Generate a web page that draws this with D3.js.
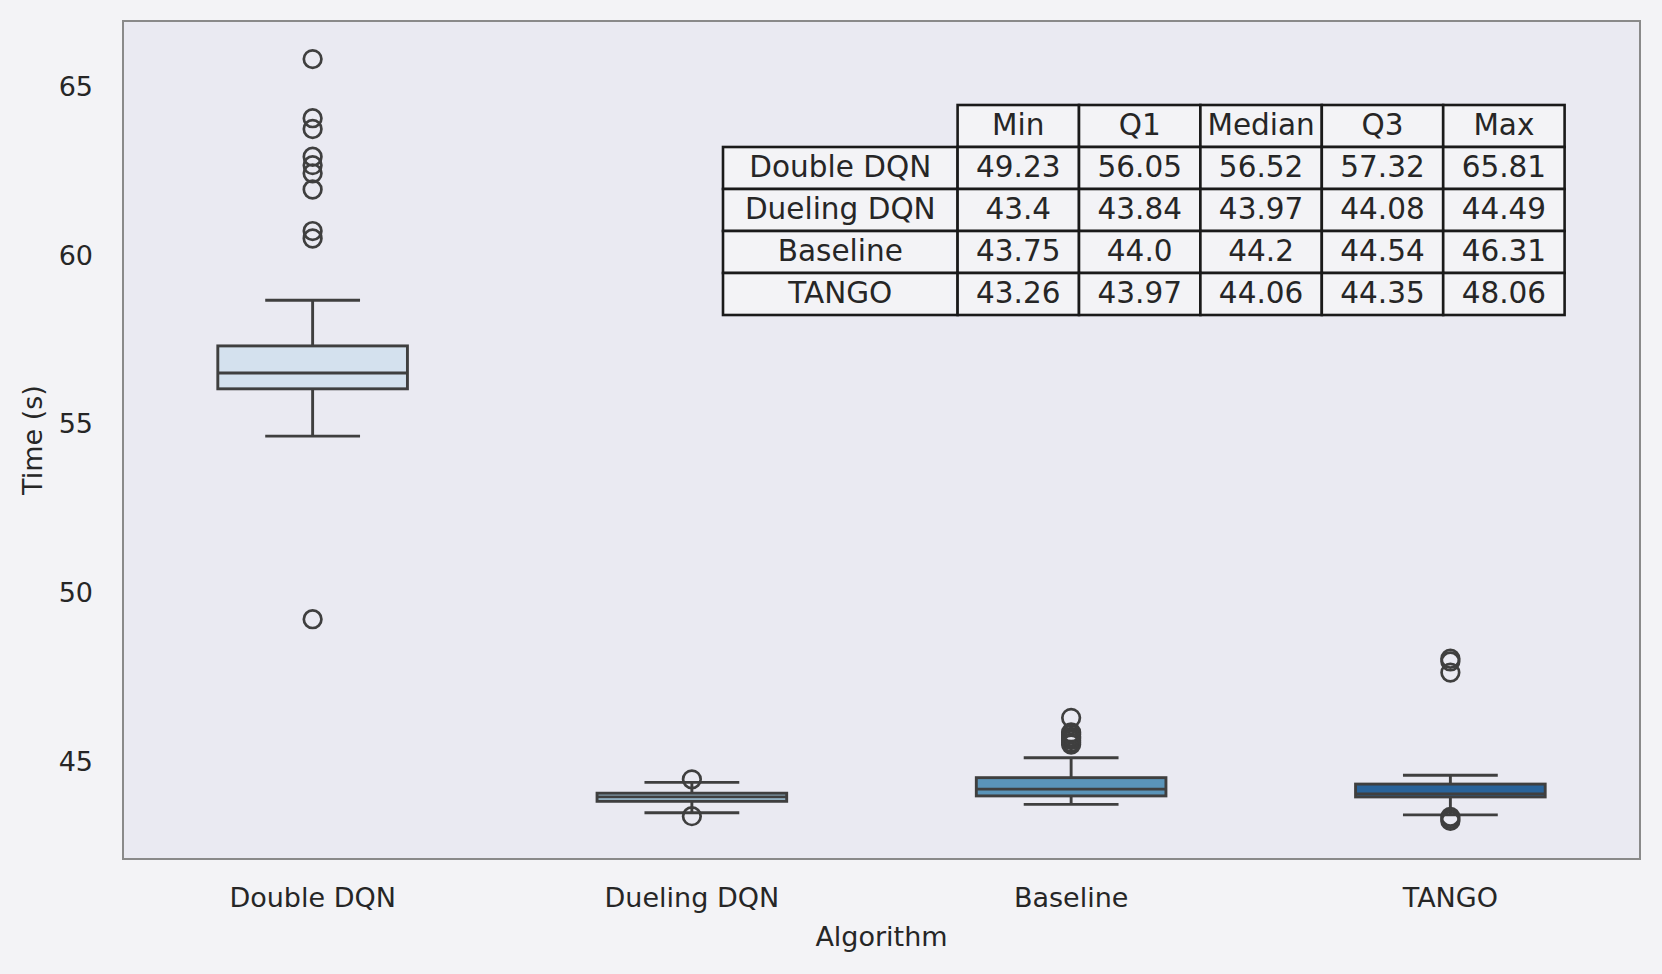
<!DOCTYPE html>
<html>
<head>
<meta charset="utf-8">
<script src="https://cdn.jsdelivr.net/npm/d3@7"></script>
<style>
  html, body { margin: 0; padding: 0; background: #f3f3f6; }
  svg { display: block; }
  text { font-family: "DejaVu Sans", sans-serif; fill: #262626; }
</style>
</head>
<body>
<svg id="chart" width="1662" height="974"></svg>
<script>
// ---- data ----
const categories = ["Double DQN", "Dueling DQN", "Baseline", "TANGO"];
const boxQ1 = [56.05, 43.84, 44.0, 43.97];
const boxMedian = [56.52, 43.97, 44.2, 44.06];
const boxQ3 = [57.32, 44.08, 44.54, 44.35];
const whiskerLow = [54.65, 43.50, 43.75, 43.44];
const whiskerHigh = [58.67, 44.40, 45.13, 44.61];
const outliers = [
  [65.81, 64.06, 63.74, 62.92, 62.67, 62.43, 61.95, 60.72, 60.50, 49.23],
  [44.49, 43.40],
  [46.31, 45.88, 45.82, 45.75, 45.70, 45.65, 45.58, 45.52],
  [48.06, 47.98, 47.65, 43.38, 43.32, 43.26]
];
const fills = ["#d4e1ee", "#9dc1d6", "#5a94b9", "#29639a"];
const yTicks = [45, 50, 55, 60, 65];

// table
const tableColumns = ["Min", "Q1", "Median", "Q3", "Max"];
const tableMin = [49.23, 43.4, 43.75, 43.26];
const tableQ1 = [56.05, 43.84, 44.0, 43.97];
const tableMedian = [56.52, 43.97, 44.2, 44.06];
const tableQ3 = [57.32, 44.08, 44.54, 44.35];
const tableMax = [65.81, 44.49, 46.31, 48.06];

// ---- layout ----
(function () {
const svg = d3.select("#chart");
const pLeft = 123, pRight = 1640, pTop = 21, pBottom = 859;
const lineColor = "#3f3f3f";
const lw = 2.9;

const x = d3.scaleBand().domain(categories).range([pLeft, pRight]).paddingInner(0).paddingOuter(0);
const dataMin = d3.min(tableMin), dataMax = d3.max(tableMax);
const pad = (dataMax - dataMin) * 0.05;
const y = d3.scaleLinear().domain([dataMin - pad, dataMax + pad]).range([pBottom, pTop]);

// axes background
svg.append("rect").attr("x", pLeft).attr("y", pTop).attr("width", pRight - pLeft).attr("height", pBottom - pTop)
  .attr("fill", "#eaeaf2");

// boxes
const bw = x.bandwidth() * 0.5;
const capW = bw * 0.5;
categories.forEach((c, i) => {
  const cx = x(c) + x.bandwidth() / 2;
  const g = svg.append("g");
  g.append("line").attr("x1", cx).attr("x2", cx).attr("y1", y(boxQ3[i])).attr("y2", y(whiskerHigh[i]))
    .attr("stroke", lineColor).attr("stroke-width", lw);
  g.append("line").attr("x1", cx).attr("x2", cx).attr("y1", y(boxQ1[i])).attr("y2", y(whiskerLow[i]))
    .attr("stroke", lineColor).attr("stroke-width", lw);
  [whiskerHigh[i], whiskerLow[i]].forEach(v => {
    g.append("line").attr("x1", cx - capW / 2).attr("x2", cx + capW / 2).attr("y1", y(v)).attr("y2", y(v))
      .attr("stroke", lineColor).attr("stroke-width", lw);
  });
  g.append("rect").attr("x", cx - bw / 2).attr("y", y(boxQ3[i])).attr("width", bw)
    .attr("height", y(boxQ1[i]) - y(boxQ3[i]))
    .attr("fill", fills[i]).attr("stroke", lineColor).attr("stroke-width", lw);
  g.append("line").attr("x1", cx - bw / 2).attr("x2", cx + bw / 2)
    .attr("y1", y(boxMedian[i])).attr("y2", y(boxMedian[i]))
    .attr("stroke", lineColor).attr("stroke-width", lw);
  g.selectAll("circle").data(outliers[i]).join("circle")
    .attr("cx", cx).attr("cy", d => y(d)).attr("r", 8.8)
    .attr("fill", "none").attr("stroke", lineColor).attr("stroke-width", 2.7);
});

// spines
svg.append("rect").attr("x", pLeft).attr("y", pTop).attr("width", pRight - pLeft).attr("height", pBottom - pTop)
  .attr("fill", "none").attr("stroke", "#8a8a8a").attr("stroke-width", 2);

// y axis
const yAxis = d3.axisLeft(y).tickValues(yTicks).tickSize(0).tickPadding(30);
const gy = svg.append("g").attr("transform", `translate(${pLeft},0)`).call(yAxis);
gy.select(".domain").remove();
gy.selectAll("text").style("font-size", "27px").attr("fill", "#262626")
  .style("font-family", "DejaVu Sans, sans-serif");

// x axis
const xAxis = d3.axisBottom(x).tickSize(0).tickPadding(29);
const gx = svg.append("g").attr("transform", `translate(0,${pBottom})`).call(xAxis);
gx.select(".domain").remove();
gx.selectAll("text").style("font-size", "27px").attr("fill", "#262626")
  .style("font-family", "DejaVu Sans, sans-serif");

// axis labels
svg.append("text").attr("x", (pLeft + pRight) / 2).attr("y", 946).attr("text-anchor", "middle")
  .style("font-size", "27px").text("Algorithm");
svg.append("text").attr("transform", `translate(42,${(pTop + pBottom) / 2}) rotate(-90)`)
  .attr("text-anchor", "middle").style("font-size", "27px").text("Time (s)");

// table
const fmt = v => Number.isInteger(v) ? v.toFixed(1) : String(v);
const tLeft = 723, tTop = 105, labelW = 234.6, colW = 121.4, rowH = 42;
const tableRows = categories.map((c, i) => [tableMin[i], tableQ1[i], tableMedian[i], tableQ3[i], tableMax[i]]);
const tg = svg.append("g");
const cells = [];
tableColumns.forEach((h, j) => cells.push({x: tLeft + labelW + j * colW, y: tTop, w: colW, t: h}));
categories.forEach((c, i) => {
  const ry = tTop + (i + 1) * rowH;
  cells.push({x: tLeft, y: ry, w: labelW, t: c});
  tableRows[i].forEach((v, j) => cells.push({x: tLeft + labelW + j * colW, y: ry, w: colW, t: fmt(v)}));
});
tg.selectAll("rect").data(cells).join("rect")
  .attr("x", d => d.x).attr("y", d => d.y).attr("width", d => d.w).attr("height", rowH)
  .attr("fill", "#f3f3f6").attr("stroke", "#1a1a1a").attr("stroke-width", 2.6);
tg.selectAll("text").data(cells).join("text")
  .attr("x", d => d.x + d.w / 2).attr("y", d => d.y + rowH / 2 + 8.5)
  .attr("text-anchor", "middle").style("font-size", "29.5px").text(d => d.t);
})();
</script>
</body>
</html>
